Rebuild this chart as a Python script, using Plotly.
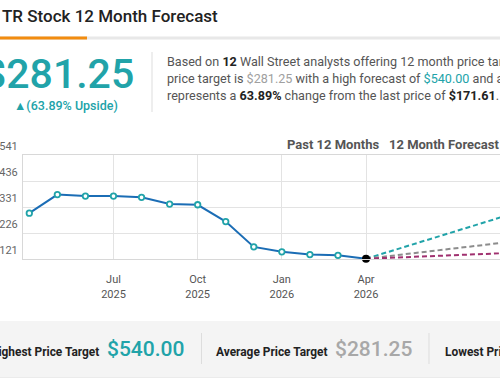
import plotly.graph_objects as go

# ---------------- data ----------------
hist_months = ["2025-04", "2025-05", "2025-06", "2025-07", "2025-08", "2025-09", "2025-10",
               "2025-11", "2025-12", "2026-01", "2026-02", "2026-03", "2026-04"]
hist_prices = [306, 381, 375, 375, 370, 343, 340, 272, 170, 150, 139, 136, 122]

forecast_months = ["2026-04", "2027-04"]
high_target = [122, 540.00]
avg_target = [122, 281.25]
low_target = [122, 177]

x_tick_months = ["2025-07", "2025-10", "2026-01", "2026-04"]
x_tick_labels = ["Jul<br>2025", "Oct<br>2025", "Jan<br>2026", "Apr<br>2026"]
y_tick_vals = [121, 226, 331, 436, 541]
y_tick_labels = ["121", "226", "331", "436", "541"]

# month string -> month index (uniform monthly spacing)
def midx(m):
    y, mo = m.split("-")
    return (int(y) - 2025) * 12 + int(mo) - 4

TEAL = "#21a3a9"
BLUE = "#1b6db5"
GRAY = "#8c8c8c"
MAGENTA = "#a0306f"

fig = go.Figure()

fig.add_trace(go.Scatter(
    x=[midx(m) for m in forecast_months], y=high_target, mode="lines",
    line=dict(color=TEAL, width=2, dash="5px,3px"), hoverinfo="skip"))
fig.add_trace(go.Scatter(
    x=[midx(m) for m in forecast_months], y=avg_target, mode="lines",
    line=dict(color=GRAY, width=2, dash="5px,3px"), hoverinfo="skip"))
fig.add_trace(go.Scatter(
    x=[midx(m) for m in forecast_months], y=low_target, mode="lines",
    line=dict(color=MAGENTA, width=2, dash="5px,3px"), hoverinfo="skip"))

fig.add_trace(go.Scatter(
    x=[midx(m) for m in hist_months], y=hist_prices, mode="lines",
    line=dict(color=BLUE, width=2), hoverinfo="skip"))
fig.add_trace(go.Scatter(
    x=[midx(m) for m in hist_months[:-1]], y=hist_prices[:-1], mode="markers",
    marker=dict(size=5.5, color="white", line=dict(color=TEAL, width=1.8)),
    hoverinfo="skip"))
fig.add_trace(go.Scatter(
    x=[midx(hist_months[-1])], y=[hist_prices[-1]], mode="markers",
    marker=dict(size=8, color="black"), hoverinfo="skip", cliponaxis=False))

# ---------------- layout ----------------
L, R, T, B = 23, 500, 155, 259
W, H = R - L, B - T
def px(x):
    return (x - L) / W
def py(y):
    return (B - y) / H

FONT = "Roboto"
anns = []
def txt(text, x, y, size, color, xanchor="left", weight=None):
    f = dict(family=FONT, size=size, color=color)
    if weight:
        f["weight"] = weight
    anns.append(dict(text=text, x=px(x), y=py(y), xref="paper", yref="paper",
                     xanchor=xanchor, yanchor="middle", showarrow=False, font=f))

# title
txt("TR Stock 12 Month Forecast", 0, 16, 17, "#222222", weight=500)
# big price
txt("$281.25", -19, 74, 41, TEAL, weight=500)
txt("▲(63.89% Upside)", 12, 106, 12.5, TEAL, weight=500)
# paragraph
txt("Based on <b style='color:#222'>12</b> Wall Street analysts offering 12 month price targets for",
    164.5, 61, 12.6, "#555555")
txt("price target is <span style='color:#a0a0a0'>$281.25</span> with a high forecast of "
    "<span style='color:%s'>$540.00</span> and a low forecast" % TEAL, 164.5, 78, 12.6, "#555555")
txt("represents a <b style='color:#222'>63.89%</b> change from the last price of "
    "<b style='color:#222'>$171.61</b>.", 164.5, 95.5, 12.6, "#555555")
# chart headers
txt("Past 12 Months", 381, 144, 13, "#555555", xanchor="right", weight=700)
txt("12 Month Forecast", 387, 144, 13, "#555555", weight=700)
# bottom band
txt("Highest Price Target", 101, 352, 11.9, "#222222", xanchor="right", weight=700)
txt("$540.00", 105, 349, 21, TEAL, weight=500)
txt("Average Price Target", 214, 352, 11.9, "#222222", weight=700)
txt("$281.25", 333, 349, 21, "#a8a8a8", weight=500)
txt("Lowest Price Target", 443, 352, 11.9, "#222222", weight=700)

shapes = [
    dict(type="rect", xref="paper", yref="paper", x0=px(0), x1=px(500), y0=py(36.5), y1=py(39.5),
         fillcolor="#e8e8e8", line=dict(width=0), layer="below"),
    dict(type="rect", xref="paper", yref="paper", x0=px(0), x1=px(87), y0=py(36.5), y1=py(39.5),
         fillcolor="#f28c0f", line=dict(width=0), layer="below"),
    dict(type="line", xref="paper", yref="paper", x0=px(152), x1=px(152), y0=py(52), y1=py(112),
         line=dict(color="#dddddd", width=1)),
    dict(type="rect", xref="paper", yref="paper", x0=px(0), x1=px(500), y0=py(321), y1=py(377),
         fillcolor="#f4f4f4", line=dict(width=0), layer="below"),
    dict(type="line", xref="paper", yref="paper", x0=px(0), x1=px(500), y0=py(377.5), y1=py(377.5),
         line=dict(color="#ebebeb", width=1)),
    dict(type="line", xref="paper", yref="paper", x0=px(201.5), x1=px(201.5), y0=py(333), y1=py(364),
         line=dict(color="#dddddd", width=1)),
    dict(type="line", xref="paper", yref="paper", x0=px(429), x1=px(429), y0=py(333), y1=py(364),
         line=dict(color="#dddddd", width=1)),
]

fig.update_layout(
    width=500, height=383,
    margin=dict(l=L, r=0, t=T, b=383 - B, pad=0, autoexpand=False),
    paper_bgcolor="white", plot_bgcolor="white",
    showlegend=False,
    font=dict(family=FONT, color="#555555"),
    annotations=anns, shapes=shapes,
    xaxis=dict(
        range=[-0.225, 16.775], tickmode="array",
        tickvals=[midx(m) for m in x_tick_months], ticktext=x_tick_labels,
        showgrid=True, gridcolor="#e3e3e3", gridwidth=1,
        showline=True, linecolor="#d8d8d8", linewidth=1, mirror=True,
        zeroline=False, ticks="", ticklabelstandoff=10, automargin=False,
        tickfont=dict(family=FONT, size=11, color="#555555"),
    ),
    yaxis=dict(
        range=[121, 541], tickmode="array", tickvals=y_tick_vals, ticktext=y_tick_labels,
        showgrid=True, gridcolor="#e3e3e3", gridwidth=1,
        showline=True, linecolor="#d8d8d8", linewidth=1,
        zeroline=False, ticks="", ticklabelstandoff=2, ticklabelshift=-9, automargin=False,
        tickfont=dict(family=FONT, size=11, color="#666666"),
    ),
)

# remove the browser's default 8px page margin so the figure sits at the window's corner
fig.write_html("out.html", config={"displayModeBar": False},
               post_script="document.body.style.margin='0';")
